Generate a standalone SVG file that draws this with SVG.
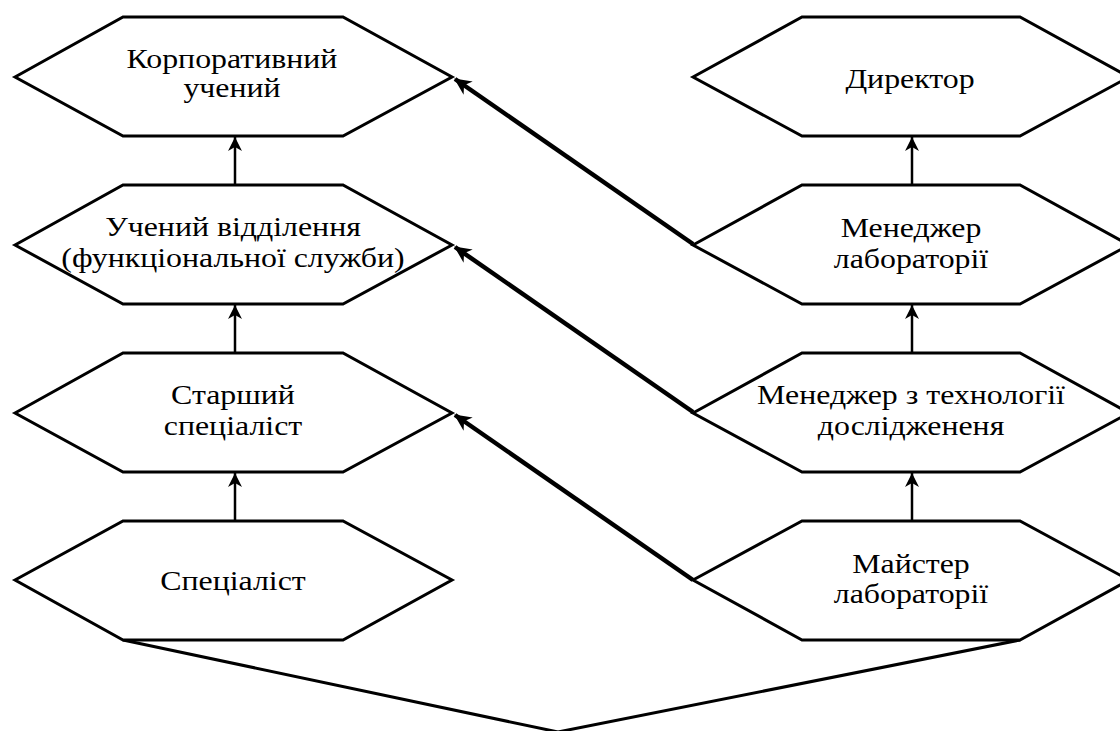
<svg xmlns="http://www.w3.org/2000/svg" width="1120" height="731" viewBox="0 0 1120 731">
<style>
.hex{fill:#fff;stroke:#000;stroke-width:3;stroke-linejoin:miter}
.t{font-family:'Liberation Serif','Times New Roman',serif;font-size:27px;fill:#000;text-anchor:middle}
.v{stroke:#000;stroke-width:2.5;fill:none}
.d{stroke:#000;stroke-width:4.5;fill:none}
.b{stroke:#000;stroke-width:3;fill:none;stroke-linejoin:miter}
</style>
<defs>
<marker id="ah" markerUnits="userSpaceOnUse" markerWidth="16" markerHeight="14" refX="14" refY="7" orient="auto" viewBox="0 0 16 14">
<path d="M14,7 L0,0 L4,7 L0,14 Z" fill="#000"/>
</marker>
<marker id="ahd" markerUnits="userSpaceOnUse" markerWidth="18" markerHeight="16" refX="16" refY="8" orient="auto" viewBox="0 0 18 16">
<path d="M17,8 L0,0 L5,8 L0,16 Z" fill="#000"/>
</marker>
</defs>
<rect width="1120" height="731" fill="#fff"/>
<g id="connectors">
<line class="v" x1="235" y1="185" x2="235" y2="137" marker-end="url(#ah)"/>
<line class="v" x1="235" y1="353" x2="235" y2="305" marker-end="url(#ah)"/>
<line class="v" x1="235" y1="521" x2="235" y2="473" marker-end="url(#ah)"/>
<line class="v" x1="912" y1="185" x2="912" y2="137" marker-end="url(#ah)"/>
<line class="v" x1="912" y1="353" x2="912" y2="305" marker-end="url(#ah)"/>
<line class="v" x1="912" y1="521" x2="912" y2="473" marker-end="url(#ah)"/>
<line class="d" x1="693" y1="244" x2="455" y2="79" marker-end="url(#ahd)"/>
<line class="d" x1="693" y1="412" x2="455" y2="247" marker-end="url(#ahd)"/>
<line class="d" x1="693" y1="580" x2="455" y2="415" marker-end="url(#ahd)"/>
<polyline class="b" points="123,640 558,732 1020,640"/>
</g>
<g id="n1">
<polygon class="hex" points="15,77 123,17 343,17 452,77 343,136 123,136"/>
<text class="t" transform="translate(232,68) scale(1.18,1)">Корпоративний</text>
<text class="t" transform="translate(232,97) scale(1.18,1)">учений</text>
</g>
<g id="n2">
<polygon class="hex" points="15,245 123,185 343,185 452,245 343,304 123,304"/>
<text class="t" transform="translate(233,236) scale(1.18,1)">Учений відділення</text>
<text class="t" transform="translate(233,267) scale(1.18,1)">(функціональної служби)</text>
</g>
<g id="n3">
<polygon class="hex" points="15,413 123,353 343,353 452,413 343,472 123,472"/>
<text class="t" transform="translate(233,404) scale(1.18,1)">Старший</text>
<text class="t" transform="translate(233,435) scale(1.18,1)">спеціаліст</text>
</g>
<g id="n4">
<polygon class="hex" points="15,580 123,521 343,521 452,580 343,640 123,640"/>
<text class="t" transform="translate(233,590) scale(1.18,1)">Спеціаліст</text>
</g>
<g id="n5">
<polygon class="hex" points="693,77 802,17 1020,17 1129,77 1020,136 802,136"/>
<text class="t" transform="translate(910,88) scale(1.18,1)">Директор</text>
</g>
<g id="n6">
<polygon class="hex" points="693,245 802,185 1020,185 1129,245 1020,304 802,304"/>
<text class="t" transform="translate(911,237) scale(1.18,1)">Менеджер</text>
<text class="t" transform="translate(911,268) scale(1.18,1)">лабораторії</text>
</g>
<g id="n7">
<polygon class="hex" points="693,413 802,353 1020,353 1129,413 1020,472 802,472"/>
<text class="t" transform="translate(911,404) scale(1.18,1)">Менеджер з технології</text>
<text class="t" transform="translate(911,435) scale(1.18,1)">досліджененя</text>
</g>
<g id="n8">
<polygon class="hex" points="693,580 802,521 1020,521 1129,580 1020,640 802,640"/>
<text class="t" transform="translate(911,573) scale(1.18,1)">Майстер</text>
<text class="t" transform="translate(911,603) scale(1.18,1)">лабораторії</text>
</g>
</svg>
